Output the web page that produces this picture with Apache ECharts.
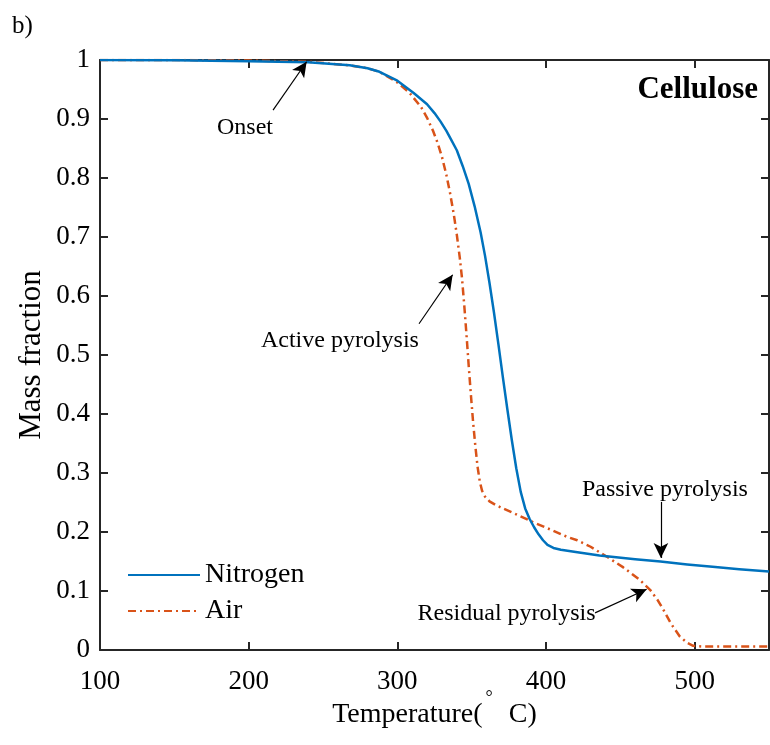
<!DOCTYPE html>
<html>
<head>
<meta charset="utf-8">
<script src="https://cdn.jsdelivr.net/npm/echarts@6/dist/echarts.min.js"></script>
<style>html,body{margin:0;padding:0;background:#fff;}#chart{width:770px;height:745px;}</style>
</head>
<body>
<div id="chart"></div>
<script>
// ---- data ----
var xTicks = [100, 200, 300, 400, 500];
var yTicks = [0, 0.1, 0.2, 0.3, 0.4, 0.5, 0.6, 0.7, 0.8, 0.9, 1];

var nitrogenT = [100,150,200,240,268,280,288,300,311,320,325,329,333,336,340,344,348,352,356,359,362,365,368,371,374,377,380,383,386,389,392,395,398,401,405,410,420,436,460,477,495,512,530,550];
var nitrogenM = [1.000,0.9995,0.998,0.996,0.991,0.986,0.980,0.965,0.944,0.925,0.910,0.896,0.880,0.866,0.847,0.820,0.790,0.752,0.708,0.668,0.622,0.572,0.518,0.462,0.408,0.356,0.308,0.268,0.240,0.222,0.208,0.196,0.186,0.178,0.173,0.170,0.166,0.160,0.154,0.150,0.145,0.141,0.137,0.133];

var airT = [100,150,200,240,268,280,288,300,308,316,320,324,327,330,333,335.5,338,340,342,343.5,345,346.5,348,349.5,351,352.5,354,355.5,357,359,362,366,371,380,391,405,414,421,430,441,452,463,470,475,479,484,490,495,499,505,550];
var airM = [1.000,1.000,0.999,0.997,0.991,0.986,0.980,0.962,0.945,0.920,0.902,0.880,0.860,0.836,0.805,0.774,0.738,0.704,0.665,0.630,0.585,0.535,0.482,0.432,0.385,0.345,0.310,0.285,0.270,0.260,0.252,0.246,0.240,0.230,0.217,0.202,0.192,0.186,0.175,0.158,0.140,0.119,0.102,0.085,0.068,0.045,0.023,0.012,0.007,0.006,0.006];

// annotation texts [T, mass, text]
var annoTexts = [
  [197.5, 0.886, 'Onset'],
  [261.4, 0.525, 'Active pyrolysis'],
  [480, 0.271, 'Passive pyrolysis'],
  [373.5, 0.061, 'Residual pyrolysis']
];
// arrows: [tailT, tailM, headT, headM]
var annoArrows = [
  [216.4, 0.915, 239, 0.997],
  [314.6, 0.553, 337.2, 0.636],
  [477.3, 0.251, 477.3, 0.156],
  [433, 0.063, 467.7, 0.103]
];

function zip(a, b) { return a.map(function (v, i) { return [v, b[i]]; }); }

var FONT = "'Liberation Serif', 'Times New Roman', serif";
var AX = '#262626';

var chart = echarts.init(document.getElementById('chart'), null, {renderer: 'canvas'});

var tickStyle = {show: true, inside: true, length: 8, lineStyle: {color: AX, width: 2}};
var lineStyleAx = {show: true, onZero: false, lineStyle: {color: AX, width: 2}};

var option = {
  animation: false,
  backgroundColor: '#fff',
  textStyle: {fontFamily: FONT},
  grid: {left: 100, right: 1, top: 60, bottom: 95, containLabel: false, outerBoundsMode: 'none'},
  legend: {
    data: ['Nitrogen', 'Air'],
    orient: 'vertical',
    left: 127, top: 560, padding: 0,
    itemWidth: 72, itemHeight: 14, itemGap: 6,
    itemStyle: {opacity: 0},
    textStyle: {fontFamily: FONT, fontSize: 28, color: '#000', lineHeight: 30}
  },
  xAxis: [
    {
      type: 'value', min: 100, max: 550, interval: 100, position: 'bottom',
      axisLine: lineStyleAx, splitLine: {show: false},
      axisTick: Object.assign({customValues: xTicks}, tickStyle),
      axisLabel: {show: true, fontSize: 27, color: '#000', fontFamily: FONT, margin: 18, customValues: xTicks},
      name: 'Temperature({sup|°}C)',
      nameLocation: 'middle', nameGap: 39, nameMoveOverlap: false,
      nameTextStyle: {fontFamily: FONT, fontSize: 28, color: '#000', lineHeight: 52,
        rich: {sup: {fontFamily: FONT, fontSize: 18, color: '#000', verticalAlign: 'top', lineHeight: 18, padding: [0, 16, 0, 3]}}}
    },
    {
      type: 'value', min: 100, max: 550, interval: 100, position: 'top',
      axisLine: lineStyleAx, splitLine: {show: false},
      axisTick: Object.assign({customValues: xTicks}, tickStyle),
      axisLabel: {show: false}
    }
  ],
  yAxis: [
    {
      type: 'value', min: 0, max: 1, interval: 0.1, position: 'left',
      axisLine: lineStyleAx, splitLine: {show: false}, axisTick: tickStyle,
      axisLabel: {show: true, fontSize: 27, color: '#000', fontFamily: FONT, margin: 10},
      name: 'Mass fraction', nameLocation: 'middle', nameGap: 53, nameMoveOverlap: false,
      nameTextStyle: {fontFamily: FONT, fontSize: 31, color: '#000'}
    },
    {
      type: 'value', min: 0, max: 1, interval: 0.1, position: 'right',
      axisLine: lineStyleAx, splitLine: {show: false}, axisTick: tickStyle,
      axisLabel: {show: false}
    }
  ],
  series: [
    {
      name: 'Nitrogen', type: 'line', data: zip(nitrogenT, nitrogenM),
      showSymbol: false, symbol: 'none', smooth: false,
      lineStyle: {color: '#0072BD', width: 2.5, join: 'round'}, itemStyle: {color: '#0072BD'},
      z: 3,
      markLine: {
        silent: true, symbol: ['none', 'arrow'], symbolSize: [11, 15],
        lineStyle: {color: '#000', width: 1.2, type: 'solid'},
        label: {show: false},
        data: annoArrows.map(function (a) { return [{coord: [a[0], a[1]]}, {coord: [a[2], a[3]]}]; })
      }
    },
    {
      name: 'Air', type: 'line', data: zip(airT, airM),
      showSymbol: false, symbol: 'none', smooth: false,
      lineStyle: {color: '#D95319', width: 2.5, type: [8, 4, 2, 4], join: 'round'}, itemStyle: {color: '#D95319'},
      z: 2
    }
  ]
};
chart.setOption(option);

// texts placed through the chart's own coordinate conversion
var g = [
  {type: 'text', left: 12, top: 14, z: 10, style: {text: 'b)', font: '25px ' + FONT, fill: '#000'}},
  {type: 'text', right: 12, top: 74, z: 10, style: {text: 'Cellulose', font: 'bold 31px ' + FONT, fill: '#000'}}
];
annoTexts.forEach(function (a) {
  var p = chart.convertToPixel({xAxisIndex: 0, yAxisIndex: 0}, [a[0], a[1]]);
  g.push({type: 'text', x: p[0], y: p[1], z: 10, silent: true,
    style: {text: a[2], font: '24px ' + FONT, fill: '#000', align: 'center', verticalAlign: 'middle'}});
});
chart.setOption({graphic: g});
</script>
</body>
</html>
